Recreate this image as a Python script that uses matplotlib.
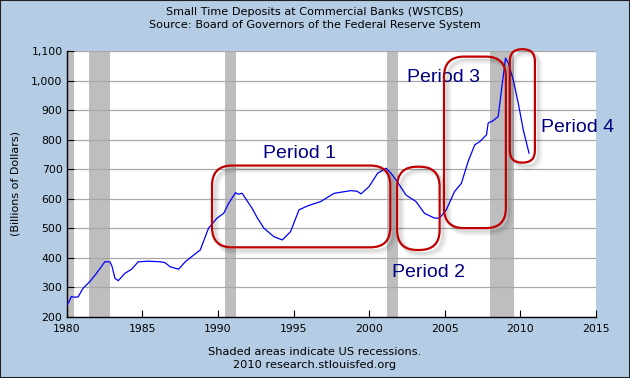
import matplotlib
matplotlib.use("Agg")
import matplotlib.pyplot as plt
from matplotlib.patches import FancyBboxPatch, Rectangle
from matplotlib.transforms import IdentityTransform
from matplotlib.ticker import FuncFormatter

# ---- data ----
years = [1980.0, 1980.15, 1980.3, 1980.5, 1980.75, 1981.08, 1981.53, 1981.97, 1982.3, 1982.52,
         1982.86, 1983.0, 1983.19, 1983.41, 1983.85, 1984.3, 1984.73, 1985.4, 1986.18, 1986.5,
         1986.84, 1987.4, 1987.84, 1988.4, 1988.83, 1989.38, 1989.94, 1990.38, 1990.71, 1991.16,
         1991.35, 1991.6, 1992.26, 1992.6, 1993.04, 1993.7, 1994.26, 1994.8, 1995.36, 1995.92,
         1996.14, 1996.8, 1997.68, 1998.79, 1999.2, 1999.46, 2000.0, 2000.56, 2001.12, 2001.45,
         2001.9, 2002.44, 2003.1, 2003.66, 2004.32, 2004.65, 2005.1, 2005.65, 2006.1, 2006.54,
         2006.98, 2007.31, 2007.76, 2007.87, 2008.2, 2008.53, 2008.75, 2009.02, 2009.2, 2009.53,
         2009.86, 2010.19, 2010.57]
deposits = [240, 250, 268, 266, 267, 296, 319, 347, 370, 386,
            386, 370, 330, 322, 347, 361, 386, 388, 386, 383,
            369, 361, 386, 409, 426, 500, 534, 550, 584, 620,
            615, 618, 567, 535, 500, 471, 460, 488, 562, 575,
            579, 590, 618, 627, 625, 616, 641, 686, 703, 686,
            654, 612, 590, 550, 534, 534, 562, 624, 652, 725,
            782, 793, 816, 856, 864, 878, 968, 1076, 1059, 1002,
            923, 833, 754]

recession_starts = [1980.0, 1981.5, 1990.5, 2001.2, 2007.97]
recession_ends = [1980.5, 1982.86, 1991.2, 2001.88, 2009.6]

x_ticks = [1980, 1985, 1990, 1995, 2000, 2005, 2010, 2015]
y_ticks = [200, 300, 400, 500, 600, 700, 800, 900, 1000, 1100]

period_labels = ["Period 1", "Period 2", "Period 3", "Period 4"]
# annotation boxes: (x0, x1, y0, y1) in data units, and corner radius in px
period_boxes = [(1989.61, 2001.40, 435, 712), (2001.85, 2004.66, 426, 708),
                (2004.95, 2009.04, 500, 1081), (2009.30, 2010.96, 722, 1106)]
box_radius_px = [20, 20, 20, 12]
# label anchor (x, y) in data units (left, center)
label_pos = [(1992.95, 752), (2001.5, 351), (2002.5, 1010), (2011.35, 840)]

BG = "#B4CDE4"
RED = "#C00000"
NAVY = "#000080"
FS = 8.0

fig = plt.figure(figsize=(6.3, 3.78), dpi=100, facecolor=BG)
ax = fig.add_axes([66.7 / 630, 1 - 316.7 / 378, (596 - 66.7) / 630, (316.7 - 51) / 378])
ax.set_facecolor("white")

for s, e in zip(recession_starts, recession_ends):
    ax.axvspan(s, e, color="#BEBEBE", lw=0, zorder=1)

ax.plot(years, deposits, color="#0000FF", lw=0.9, zorder=3)

ax.set_xlim(1980, 2015)
ax.set_ylim(200, 1100)
ax.set_xticks(x_ticks)
ax.set_yticks(y_ticks)
ax.yaxis.set_major_formatter(FuncFormatter(lambda v, p: f"{int(v):,}"))
ax.grid(axis="y", color="#A8A8A8", lw=0.9, zorder=0)
ax.tick_params(direction="in", length=5, width=0.8, labelsize=7.8, colors="black", pad=3)
ax.tick_params(axis="x", pad=5)
for side in ["top", "right"]:
    ax.spines[side].set_visible(False)
for side in ["left", "bottom"]:
    ax.spines[side].set_linewidth(1.0)

ax.set_ylabel("(Billions of Dollars)", fontsize=FS, labelpad=8)

fig.text(0.5, 1 - 12 / 378, "Small Time Deposits at Commercial Banks (WSTCBS)",
         ha="center", va="center", fontsize=8.1)
fig.text(0.5, 1 - 25.5 / 378, "Source: Board of Governors of the Federal Reserve System",
         ha="center", va="center", fontsize=8.1)
fig.text(0.5, 1 - 352 / 378, "Shaded areas indicate US recessions.",
         ha="center", va="center", fontsize=8.2)
fig.text(0.5, 1 - 365 / 378, "2010 research.stlouisfed.org",
         ha="center", va="center", fontsize=8.2)

# annotation boxes drawn in pixel space so corners stay round
fig.canvas.draw()
for (x0, x1, y0, y1), r in zip(period_boxes, box_radius_px):
    (px0, py0) = ax.transData.transform((x0, y0))
    (px1, py1) = ax.transData.transform((x1, y1))
    w, h = px1 - px0, py1 - py0
    for k, a, lw in [(5, 0.04, 4.0), (4, 0.05, 3.0), (3, 0.06, 2.0)]:
        sh = FancyBboxPatch((px0 + r + k, py0 + r - k), w - 2 * r, h - 2 * r,
                            boxstyle=f"round,pad={r},rounding_size={r}",
                            transform=IdentityTransform(), fc="none",
                            ec=(0, 0, 0, a), lw=lw, clip_on=False, zorder=4)
        fig.add_artist(sh)
    box = FancyBboxPatch((px0 + r, py0 + r), w - 2 * r, h - 2 * r,
                         boxstyle=f"round,pad={r},rounding_size={r}",
                         transform=IdentityTransform(), fc="none", ec=RED,
                         lw=1.6, clip_on=False, zorder=5)
    fig.add_artist(box)

for lab, (lx, ly) in zip(period_labels, label_pos):
    ax.text(lx, ly, lab, ha="left", va="center", color=NAVY, fontsize=14,
            family="Liberation Sans", clip_on=False, zorder=6)

# figure border
fig.add_artist(Rectangle((0, 0), 1, 1, transform=fig.transFigure, fill=False,
                         ec="#202020", lw=1.5))

fig.savefig("out.png", dpi=100, facecolor=BG)
